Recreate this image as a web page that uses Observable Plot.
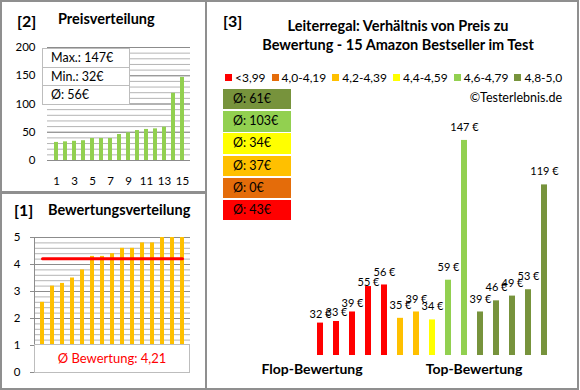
<!DOCTYPE html>
<html><head><meta charset="utf-8">
<script src="https://cdn.jsdelivr.net/npm/d3@7"></script>
<script src="https://cdn.jsdelivr.net/npm/@observablehq/plot@0.6"></script>
<style>
html,body{margin:0;padding:0;background:#fff;}
#root{position:relative;width:580px;height:390px;overflow:hidden;background:#fff;font-family:Lato,"Open Sans",sans-serif;color:#000;}
.panel{position:absolute;border:2px solid #8f8f8f;box-sizing:border-box;}
.t{position:absolute;white-space:nowrap;line-height:1;}
svg{background:transparent !important;}
</style></head><body><div id="root"></div>
<script>
// ---- data ----
const products = [1,2,3,4,5,6,7,8,9,10,11,12,13,14,15];
const pricesSorted = [32,33,34,35,39,39,39,46,49,53,55,56,59,119,147];
const priceMax = 147, priceMin = 32, priceAvg = 56;
const ratingsSorted = [2.6,3.2,3.3,3.5,3.8,4.3,4.3,4.4,4.6,4.6,4.8,4.8,5.0,5.0,5.0];
const ratingAvg = 4.21;
const barPrices = [32,33,39,55,56,35,39,34,59,147,39,46,49,53,119];
const barGroups = [0,0,0,0,0,2,2,3,4,4,5,5,5,5,5];
const groupLabels = ["<3,99","4,0-4,19","4,2-4,39","4,4-4,59","4,6-4,79","4,8-5,0"];
const groupColors = ["#FF0000","#E46C0A","#FFC000","#FFFF00","#92D050","#77933C"];
const groupAvgs = [43,0,37,34,103,61];
const priceTicks = [0,50,100,150,200];
const ratingTicks = [0,1,2,3,4,5];

const root = document.getElementById("root");
function add(el){root.appendChild(el);return el;}
function div(cls, css, html){const d=document.createElement("div");if(cls)d.className=cls;Object.assign(d.style,css);if(html!=null)d.innerHTML=html;return add(d);}
function text(str,x,y,css,anchor){
  const tx = anchor==="start"?"0":anchor==="end"?"-100%":"-50%";
  return div("t",Object.assign({left:x+"px",top:y+"px",transform:`translate(${tx},-50%)`},css||{}),str);
}

// ---- panel frames ----
div("panel",{left:"0px",top:"0px",width:"207px",height:"194px"});
div("panel",{left:"0px",top:"191px",width:"207px",height:"199px"});
div("panel",{left:"205px",top:"0px",width:"374px",height:"390px"});

const baseStyle = {fontFamily:"Lato, 'Open Sans', sans-serif", fontSize:"11.5px", color:"#000", background:"transparent", overflow:"visible"};

// ---- panel [2] Preisverteilung ----
const p2 = Plot.plot({
  width:205, height:192,
  marginLeft:47, marginRight:15, marginTop:47, marginBottom:32,
  style:baseStyle,
  x:{type:"band", domain:products, paddingInner:0.58, paddingOuter:0.29},
  y:{domain:[0,200], axis:null},
  marks:[
    Plot.gridY({ticks:d3.range(0,201,10), stroke:"#b4b4b4", strokeOpacity:1}),
    Plot.gridY({ticks:priceTicks, stroke:"#8c8c8c", strokeOpacity:1}),
    Plot.text(priceTicks,{y:d=>d, text:d=>String(d), frameAnchor:"left", textAnchor:"end", dx:-12, fill:"#000"}),
    Plot.axisX({tickSize:0, tickPadding:16, label:null, tickFormat:d=> d%2 ? String(d) : ""}),
    Plot.barY(products,{x:d=>d, y:(d,i)=>pricesSorted[i], fill:"#92D050"})
  ]
});
p2.style.position="absolute";p2.style.left="0px";p2.style.top="0px";
add(p2);

// ---- panel [1] Bewertungsverteilung ----
const p1 = Plot.plot({
  width:205, height:195,
  marginLeft:34, marginRight:15, marginTop:44, marginBottom:16,
  style:baseStyle,
  x:{type:"band", domain:products, paddingInner:0.61, paddingOuter:0.305, axis:null},
  y:{domain:[0,5]},
  marks:[
    Plot.gridY({ticks:d3.range(0,5.01,0.2), stroke:"#b4b4b4", strokeOpacity:1}),
    Plot.gridY({ticks:ratingTicks, stroke:"#8c8c8c", strokeOpacity:1}),
    Plot.axisY({ticks:ratingTicks, tickSize:4, tickPadding:10, stroke:"#8c8c8c", label:null, tickFormat:d=>String(d)}),
    Plot.barY(products,{x:d=>d, y:(d,i)=>ratingsSorted[i], fill:"#FFC000"}),
    Plot.lineY(products,{x:d=>d, y:()=>ratingAvg, stroke:"#FF0000", strokeWidth:3}),
    Plot.frame({anchor:"left", stroke:"#8c8c8c"})
  ]
});
p1.style.position="absolute";p1.style.left="0px";p1.style.top="193px";
add(p1);

// ---- panel [3] ----
const p3 = Plot.plot({
  width:372, height:388,
  marginLeft:101, marginRight:20, marginTop:118, marginBottom:33,
  style:Object.assign({},baseStyle,{fontSize:"11px"}),
  x:{type:"band", domain:products, paddingInner:0.6, paddingOuter:0.3, axis:null},
  y:{domain:[11.6,160.8], axis:null},
  color:{domain:[0,1,2,3,4,5], range:groupColors},
  marks:[
    Plot.barY(products,{x:d=>d, y:(d,i)=>barPrices[i], fill:(d,i)=>barGroups[i], clip:true}),
    Plot.text(products,{filter:(d,i)=>i<3, x:d=>d, y:(d,i)=>barPrices[i], text:(d,i)=>barPrices[i]+" €", dy:-9, fill:"#000"}),
    Plot.text(products,{filter:(d,i)=>i===3, x:d=>d, y:(d,i)=>barPrices[i], text:(d,i)=>barPrices[i]+" €", dy:-4, fill:"#000"}),
    Plot.text(products,{filter:(d,i)=>i>3, x:d=>d, y:(d,i)=>barPrices[i], text:(d,i)=>barPrices[i]+" €", dy:-13, fill:"#000"})
  ]
});
p3.style.position="absolute";p3.style.left="206px";p3.style.top="0px";
add(p3);

// ---- texts panel [2] ----
text("[2]",17,21,{fontSize:"16px",fontWeight:"bold"},"start");
text("Preisverteilung",58,19,{fontSize:"14.5px",fontWeight:"bold"},"start");
const info = div(null,{position:"absolute",left:"42px",top:"48px",width:"88px",background:"#fff",border:"1px solid #bdbdbd",boxSizing:"border-box",fontSize:"12.5px"});
[`Max.: ${priceMax}€`,`Min.: ${priceMin}€`,`Ø: ${priceAvg}€`].forEach((s,i)=>{
  const r=document.createElement("div");
  Object.assign(r.style,{height:"17.7px",lineHeight:"17.7px",paddingLeft:"8px",borderTop:i?"1px solid #bdbdbd":"none",whiteSpace:"nowrap"});
  r.textContent=s;info.appendChild(r);
});

// ---- texts panel [1] ----
text("[1]",14,210,{fontSize:"16px",fontWeight:"bold"},"start");
text("Bewertungsverteilung",48,210,{fontSize:"14.5px",fontWeight:"bold"},"start");
div(null,{position:"absolute",left:"34px",top:"344px",width:"156px",height:"29px",background:"#fff",border:"1px solid #bdbdbd",boxSizing:"border-box",color:"#FF0000",fontSize:"13px",textAlign:"center",lineHeight:"27px",whiteSpace:"nowrap"},`Ø Bewertung: ${String(ratingAvg).replace(".",",")}`);

// ---- texts panel [3] ----
text("[3]",223,21,{fontSize:"16px",fontWeight:"bold"},"start");
text("Leiterregal: Verhältnis von Preis zu",398,26,{fontSize:"14.5px",fontWeight:"bold"});
text("Bewertung - 15 Amazon Bestseller im Test",398,45,{fontSize:"14.5px",fontWeight:"bold"});
const leg = div(null,{position:"absolute",left:"225px",top:"70px",display:"flex",alignItems:"center",gap:"6px",fontSize:"12px",whiteSpace:"nowrap",height:"14px"});
groupLabels.forEach((l,i)=>{
  const it=document.createElement("span");
  it.style.display="flex";it.style.alignItems="center";
  it.innerHTML=`<span style="display:inline-block;width:7px;height:7px;background:${groupColors[i]};margin-right:3px"></span>${l}`;
  leg.appendChild(it);
});
text("©Testerlebnis.de",562,98,{fontSize:"12.5px"},"end");
const avgBox = div(null,{position:"absolute",left:"223px",top:"89px",width:"68px",display:"flex",flexDirection:"column",gap:"1.8px"});
for(let i=groupAvgs.length-1;i>=0;i--){
  const r=document.createElement("div");
  Object.assign(r.style,{height:"20.4px",lineHeight:"20.4px",background:groupColors[i],paddingLeft:"10px",fontSize:"12.5px",whiteSpace:"nowrap"});
  r.textContent=`Ø: ${groupAvgs[i]}€`;
  avgBox.appendChild(r);
}
text("Flop-Bewertung",312,369,{fontSize:"14px",fontWeight:"bold"});
text("Top-Bewertung",474,369,{fontSize:"14px",fontWeight:"bold"});
</script></body></html>
